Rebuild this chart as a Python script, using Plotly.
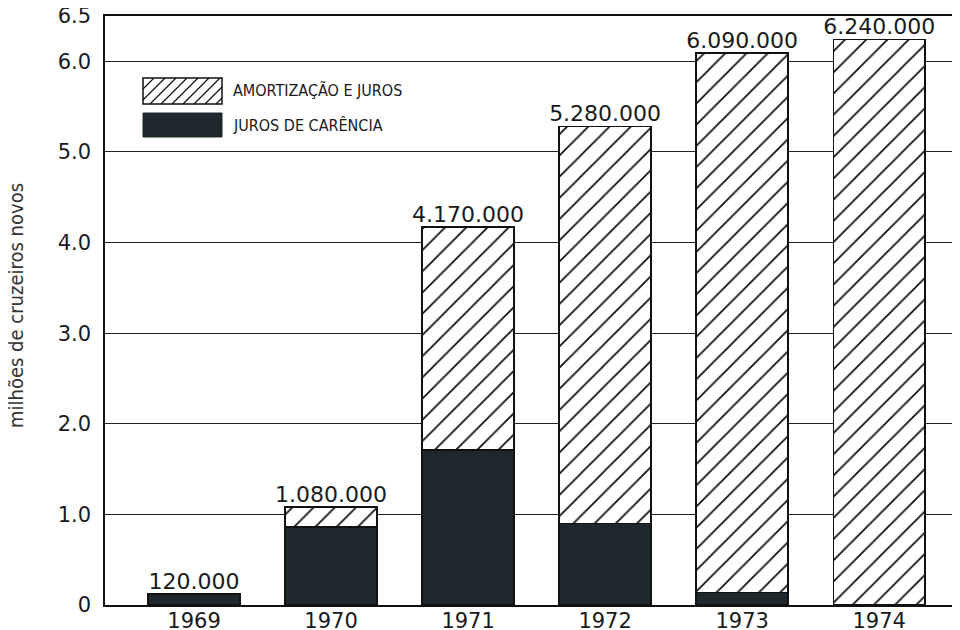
import plotly.graph_objects as go

years = ["1969", "1970", "1971", "1972", "1973", "1974"]
totals = [0.12, 1.08, 4.17, 5.28, 6.09, 6.24]
juros_carencia = [0.12, 0.86, 1.71, 0.90, 0.14, 0.0]
amortizacao = [round(t - j, 2) for t, j in zip(totals, juros_carencia)]
total_labels = ["120.000", "1.080.000", "4.170.000", "5.280.000", "6.090.000", "6.240.000"]
y_tickvals = [0, 1, 2, 3, 4, 5, 6, 6.5]
y_ticktext = ["0", "1.0", "2.0", "3.0", "4.0", "5.0", "6.0", "6.5"]

DARK = "#1f282d"
FONT_NUM = "DejaVu Sans, Verdana, sans-serif"
FONT_COND = "DejaVu Sans Condensed, Liberation Sans Narrow, Roboto Condensed, Roboto, sans-serif"

# page is rendered with an 8px body margin: compensate
OFF = 8
W, H = 960 - OFF, 630 - OFF
# plot area in page pixels: x 105..960, y 16..605
PL, PT, PR, PB = 105, 16, 960, 605
L, T = PL - OFF, PT - OFF
R, B = (960 - PR), (630 - PB)
PW, PH = PR - PL, PB - PT


def px(x, y):
    """page pixel -> paper coords"""
    return (x - PL) / PW, (PB - y) / PH


fig = go.Figure()
fig.add_trace(go.Bar(
    x=years, y=[v if v > 0 else None for v in juros_carencia],
    name="JUROS DE CARÊNCIA", width=0.67,
    marker=dict(color=DARK, line=dict(color="#111", width=1.5)),
))
fig.add_trace(go.Bar(
    x=years, y=[v if v > 0 else None for v in amortizacao],
    name="AMORTIZAÇÃO E JUROS", width=0.67,
    marker=dict(color="white", line=dict(color="#111", width=1.5),
                pattern=dict(shape="/", size=15, solidity=0.12,
                             fgcolor="#111", bgcolor="white", fillmode="replace")),
))
fig.add_trace(go.Scatter(
    x=years, y=totals, text=total_labels, mode="text",
    textposition="top center", cliponaxis=False,
    textfont=dict(family=FONT_NUM, size=22, color="#1a1a1a"),
    showlegend=False, hoverinfo="skip",
))

shapes = []
# legend: hatched box
hx0, hy0, hx1, hy1 = 143, 78, 222, 104
path = ""
step = 11
c = hx0 - (hy1 - hy0)
while c < hx1:
    xa, ya = c, hy1
    xb, yb = c + (hy1 - hy0), hy0
    if xa < hx0:
        ya = hy1 - (hx0 - xa)
        xa = hx0
    if xb > hx1:
        yb = hy0 + (xb - hx1)
        xb = hx1
    if xb > xa:
        pa = px(xa, ya)
        pb = px(xb, yb)
        path += f"M{pa[0]},{pa[1]} L{pb[0]},{pb[1]} "
    c += step
shapes.append(dict(type="path", xref="paper", yref="paper", path=path,
                   line=dict(color="#111", width=1.2)))
a0, a1 = px(hx0, hy1), px(hx1, hy0)
shapes.append(dict(type="rect", xref="paper", yref="paper", x0=a0[0], y0=a0[1],
                   x1=a1[0], y1=a1[1], line=dict(color="#111", width=1.5)))
d0, d1 = px(143, 137), px(222, 113)
shapes.append(dict(type="rect", xref="paper", yref="paper", x0=d0[0], y0=d0[1],
                   x1=d1[0], y1=d1[1], fillcolor=DARK, line=dict(color=DARK, width=1)))

annotations = []
for label, ycen in [("AMORTIZAÇÃO E JUROS", 91), ("JUROS DE CARÊNCIA", 126)]:
    p = px(231, ycen)
    annotations.append(dict(text=label, xref="paper", yref="paper", x=p[0], y=p[1],
                            xanchor="left", yanchor="middle", showarrow=False,
                            font=dict(family=FONT_COND, size=16, color="#1a1a1a")))
pt = px(16, 306)
annotations.append(dict(text="milhões de cruzeiros novos", xref="paper", yref="paper",
                        x=pt[0], y=pt[1], xanchor="center", yanchor="middle",
                        textangle=-90, showarrow=False,
                        font=dict(family=FONT_COND, size=20, color="#333")))

fig.update_layout(
    width=W, height=H,
    margin=dict(l=L, r=R, t=T, b=B, pad=0, autoexpand=False),
    paper_bgcolor="white", plot_bgcolor="white",
    barmode="stack", showlegend=False,
    shapes=shapes, annotations=annotations,
    xaxis=dict(type="category", range=[-0.65, 5.59], showgrid=False, automargin=False,
               showline=True, mirror=True, linecolor="#111", linewidth=1.5,
               ticks="", tickfont=dict(family=FONT_NUM, size=21, color="#1a1a1a"),
               ticklabelstandoff=-4, fixedrange=True),
    yaxis=dict(range=[0, 6.5], tickvals=y_tickvals, ticktext=y_ticktext, automargin=False,
               showgrid=True, gridcolor="#222", gridwidth=1.3,
               showline=True, linecolor="#111", linewidth=1.5, zeroline=False,
               ticks="", tickfont=dict(family=FONT_NUM, size=21, color="#1a1a1a"),
               ticklabelstandoff=8, ticklabeloverflow="allow", fixedrange=True),
)

fig.write_html("out.html")
